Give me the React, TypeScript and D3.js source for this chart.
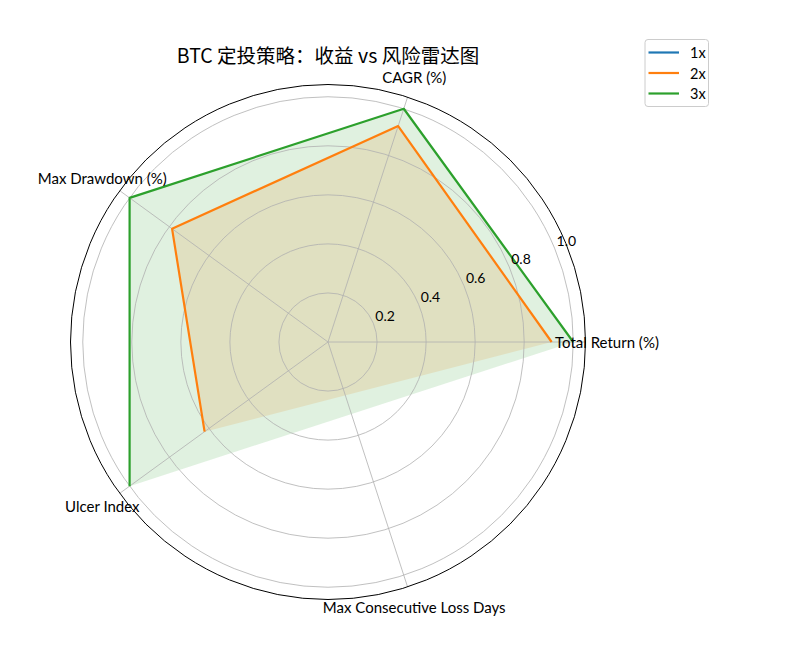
import React, { useEffect, useRef } from 'react';
import * as d3 from 'd3';

const categories = ['Total Return (%)', 'CAGR (%)', 'Max Drawdown (%)', 'Ulcer Index', 'Max Consecutive Loss Days'];
const seriesNames = ['1x', '2x', '3x'];
const values1x = [0, 0, 0, 0, NaN];
const values2x = [0.912, 0.926, 0.786, 0.622, NaN];
const values3x = [1, 1, 1, 1, NaN];
const rTicks = [0.2, 0.4, 0.6, 0.8, 1.0];
const colors = ['#1f77b4', '#ff7f0e', '#2ca02c'];

const W = 799;
const H = 646;
const cx = 328;
const cy = 342;
const R = 257.5;
const rMax = 1.05;
const font = 'Lato, "Noto Sans", sans-serif';

export default function App() {
  const svgRef = useRef<SVGSVGElement>(null);

  useEffect(() => {
    if (!svgRef.current) return;
    const svg = d3.select(svgRef.current);
    svg.selectAll('*').remove();

    const r = d3.scaleLinear().domain([0, rMax]).range([0, R]);
    // angle for category i, matplotlib style (counterclockwise from east) -> d3 radial (clockwise from north)
    const n = categories.length;
    const ang = (i: number) => Math.PI / 2 - (i * 2 * Math.PI) / n;
    const g = svg.append('g').attr('transform', `translate(${cx},${cy})`);

    const allSeries = [values1x, values2x, values3x];

    // fills (NaN points dropped, polygon closed)
    allSeries.forEach((vals, s) => {
      const pts = vals.map((v, i) => ({ v, i })).filter(d => !isNaN(d.v));
      const area = d3.lineRadial<{ v: number; i: number }>()
        .angle(d => ang(d.i))
        .radius(d => r(d.v))
        .curve(d3.curveLinearClosed);
      g.append('path')
        .attr('d', area(pts) || '')
        .attr('fill', colors[s])
        .attr('fill-opacity', 0.15)
        .attr('stroke', 'none');
    });

    // grid circles
    g.selectAll('.rgrid')
      .data(rTicks)
      .enter()
      .append('circle')
      .attr('r', d => r(d))
      .attr('fill', 'none')
      .attr('stroke', '#b0b0b0')
      .attr('stroke-width', 0.8);

    // spokes
    g.selectAll('.spoke')
      .data(categories)
      .enter()
      .append('line')
      .attr('x1', 0)
      .attr('y1', 0)
      .attr('x2', (_, i) => R * Math.cos((i * 2 * Math.PI) / n))
      .attr('y2', (_, i) => -R * Math.sin((i * 2 * Math.PI) / n))
      .attr('stroke', '#b0b0b0')
      .attr('stroke-width', 0.8);

    // lines
    allSeries.forEach((vals, s) => {
      const pts = vals.map((v, i) => ({ v, i })).concat([{ v: vals[0], i: 0 }]);
      const line = d3.lineRadial<{ v: number; i: number }>()
        .defined(d => !isNaN(d.v))
        .angle((d, k) => (k === pts.length - 1 ? ang(0) - 2 * Math.PI : ang(d.i)))
        .radius(d => r(d.v));
      g.append('path')
        .attr('d', line(pts) || '')
        .attr('fill', 'none')
        .attr('stroke', colors[s])
        .attr('stroke-width', 2.2)
        .attr('stroke-linejoin', 'round');
    });

    // outer spine
    g.append('circle')
      .attr('r', R)
      .attr('fill', 'none')
      .attr('stroke', '#000')
      .attr('stroke-width', 1);

    // radial tick labels at 22.5 deg
    const la = (22.5 * Math.PI) / 180;
    g.selectAll('.rlabel')
      .data(rTicks)
      .enter()
      .append('text')
      .attr('x', d => r(d) * Math.cos(la) + 2)
      .attr('y', d => -r(d) * Math.sin(la) - 2.5)
      .attr('font-family', font)
      .attr('font-size', 14)
      .attr('fill', '#000')
      .text(d => d.toFixed(1));

    // category labels
    g.selectAll('.tlabel')
      .data(categories)
      .enter()
      .append('text')
      .attr('x', (_, i) => 279 * Math.cos((i * 2 * Math.PI) / n))
      .attr('y', (_, i) => -279 * Math.sin((i * 2 * Math.PI) / n))
      .attr('text-anchor', 'middle')
      .attr('dominant-baseline', 'central')
      .attr('font-family', font)
      .attr('font-size', 15)
      .attr('fill', '#000')
      .text(d => d);

    // title
    svg.append('text')
      .attr('x', cx)
      .attr('y', 63)
      .attr('text-anchor', 'middle')
      .attr('font-family', '"Noto Sans CJK SC", "Noto Sans", sans-serif')
      .attr('font-size', 19.5)
      .attr('fill', '#000')
      .text('BTC 定投策略：收益 vs 风险雷达图');

    // legend
    const lg = svg.append('g').attr('transform', 'translate(645,39.5)');
    lg.append('rect')
      .attr('width', 63.5)
      .attr('height', 67)
      .attr('rx', 3)
      .attr('fill', '#fff')
      .attr('fill-opacity', 0.8)
      .attr('stroke', '#cccccc')
      .attr('stroke-width', 1);
    seriesNames.forEach((name, s) => {
      const y = 13 + s * 20.5;
      lg.append('line')
        .attr('x1', 3.5)
        .attr('x2', 34)
        .attr('y1', y)
        .attr('y2', y)
        .attr('stroke', colors[s])
        .attr('stroke-width', 2.2);
      lg.append('text')
        .attr('x', 45)
        .attr('y', y)
        .attr('dominant-baseline', 'central')
        .attr('font-family', font)
        .attr('font-size', 14.5)
        .attr('fill', '#000')
        .text(name);
    });
  }, []);

  return (
    <div style={{ position: 'absolute', left: 0, top: 0 }}>
      <svg ref={svgRef} width={W} height={H} viewBox={`0 0 ${W} ${H}`} style={{ display: 'block', background: '#fff' }} />
    </div>
  );
}
